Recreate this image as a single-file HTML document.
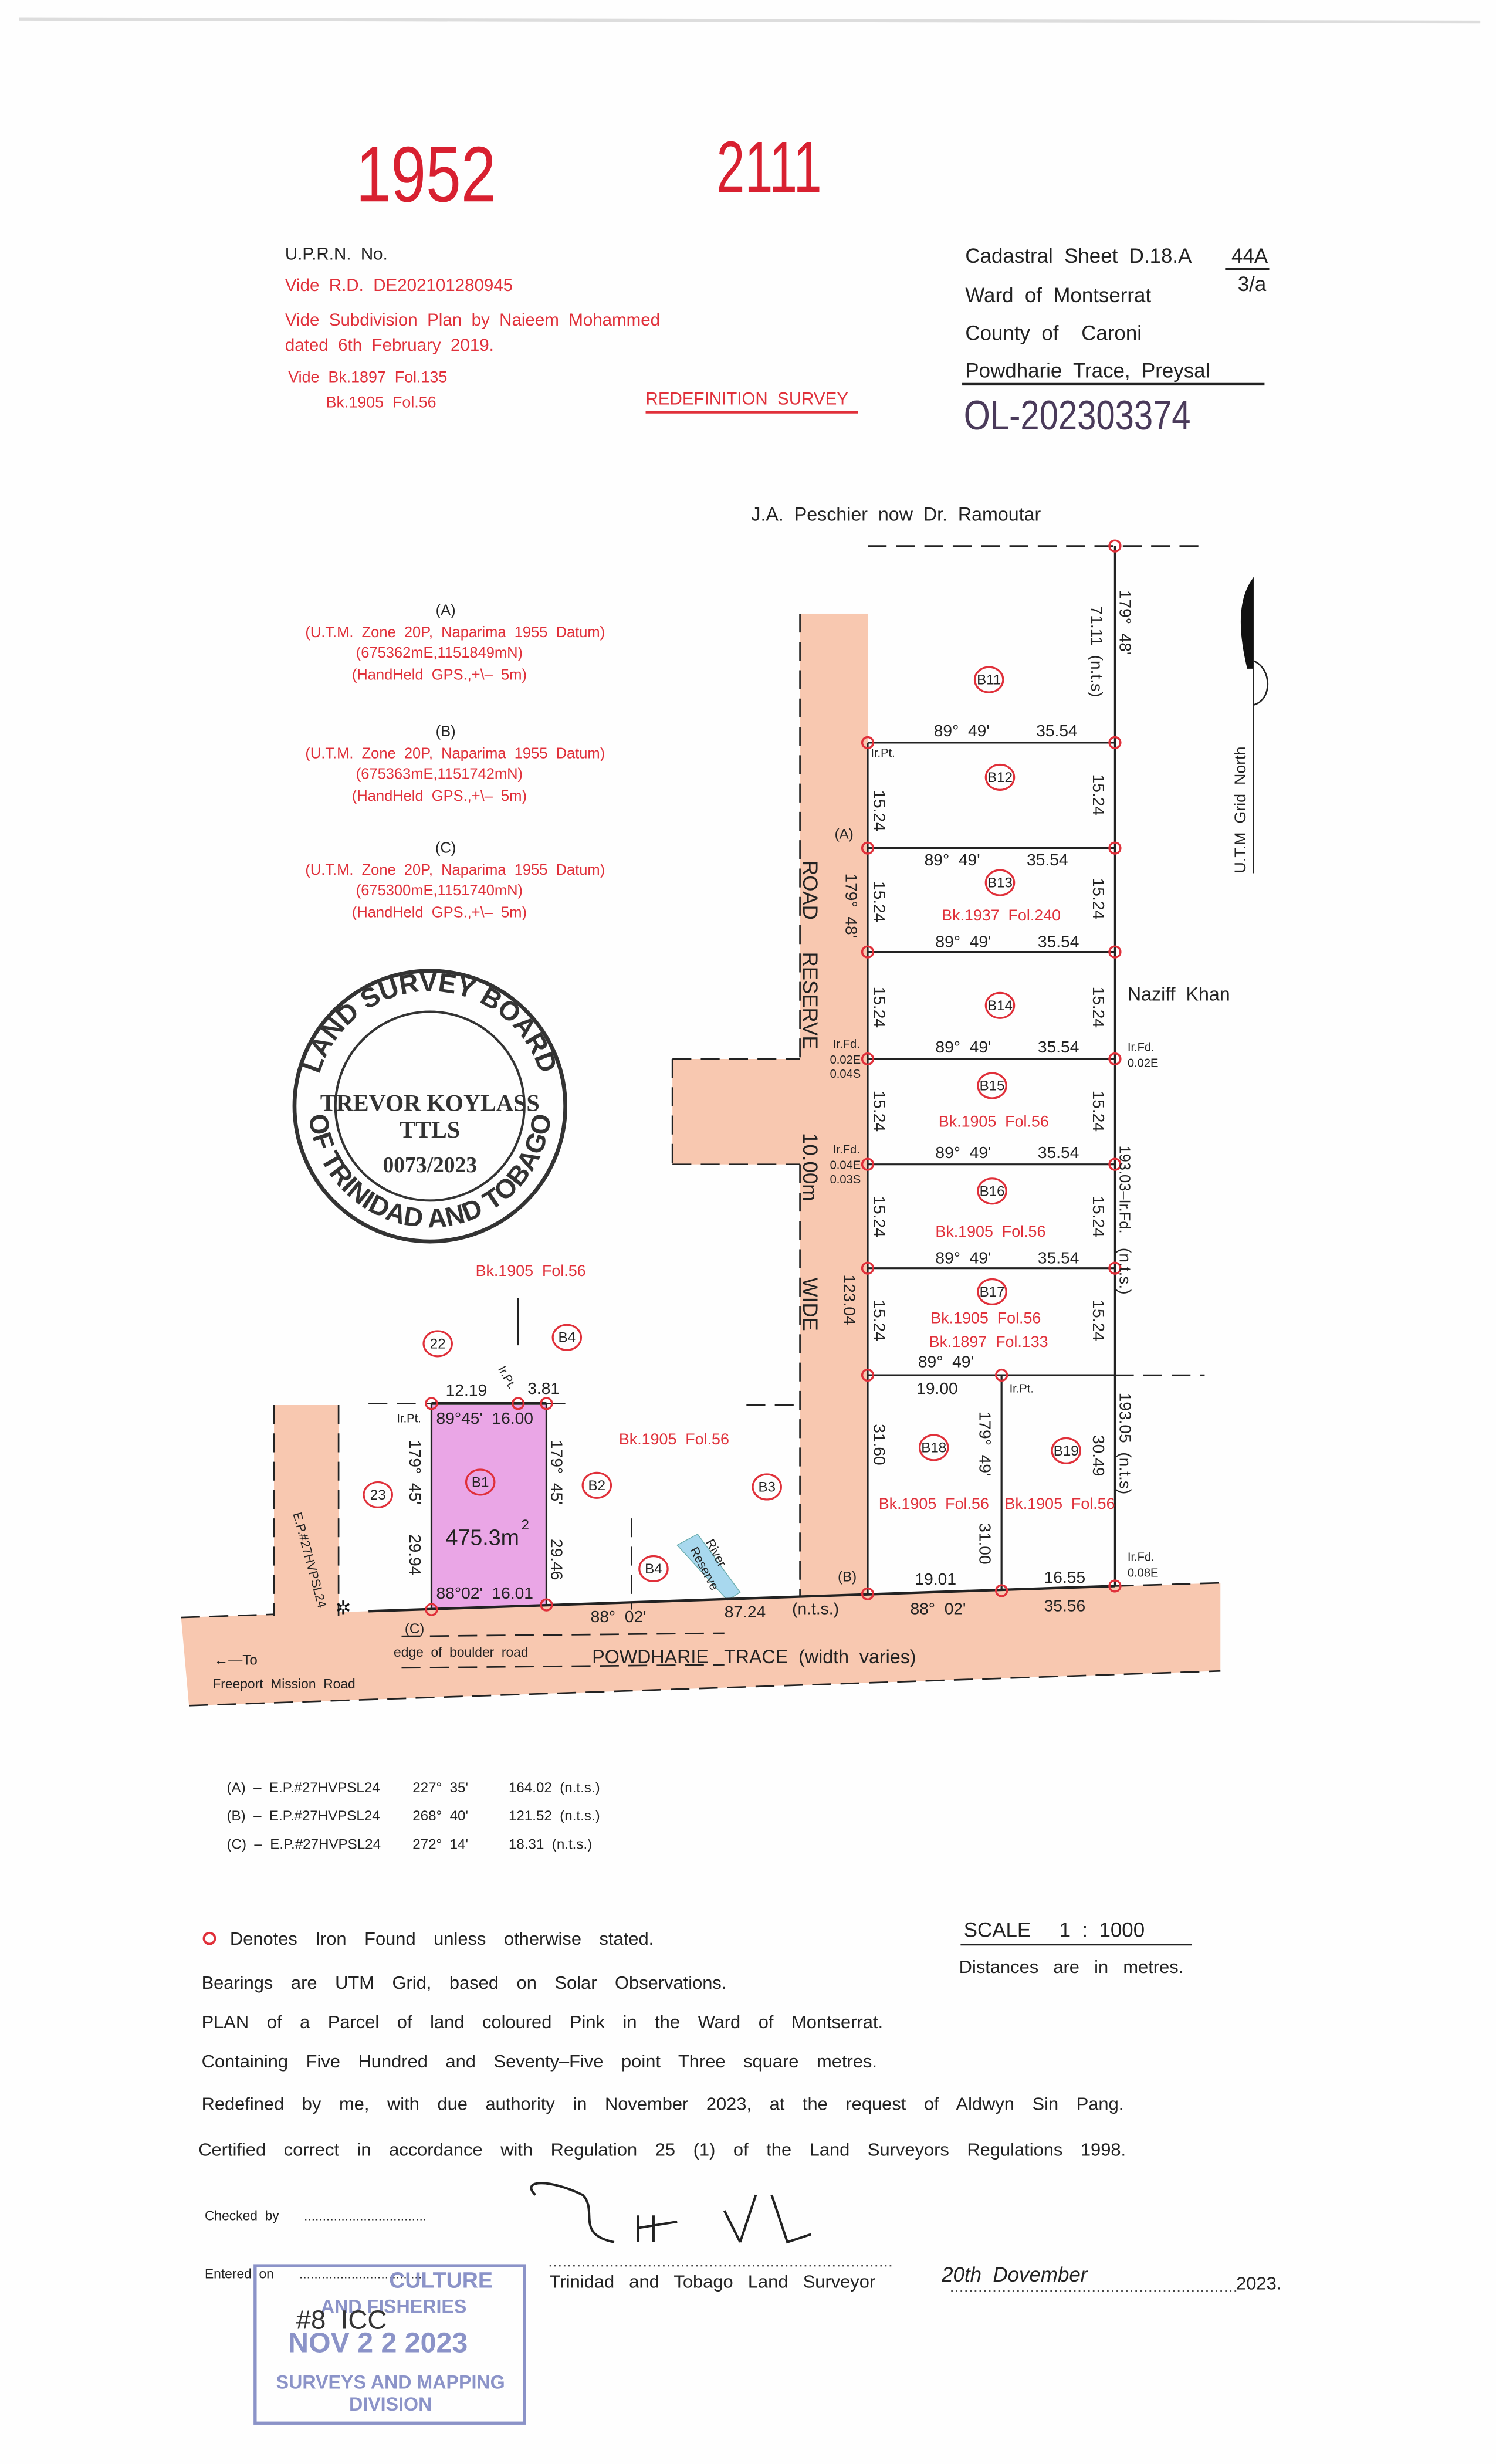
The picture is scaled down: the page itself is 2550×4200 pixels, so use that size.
<!DOCTYPE html>
<html><head><meta charset="utf-8"><style>
html,body{margin:0;padding:0;background:#fff}
svg{display:block}
text{font-family:"Liberation Sans",sans-serif;white-space:pre}
.k{fill:#222}
.r{fill:#e0303a}
</style></head><body>
<svg width="2550" height="4200" viewBox="0 0 950 1566" preserveAspectRatio="none" xmlns="http://www.w3.org/2000/svg" xml:space="preserve">
<rect width="950" height="1566" fill="#fefefe"/>
<line x1="12" y1="12" x2="940" y2="14" stroke="#ddd" stroke-width="2"/>
<text transform="translate(226,128) scale(0.8,1)" font-size="50" fill="#d82030">1952</text>
<text transform="translate(455,122) scale(0.7,1)" font-size="46" fill="#d82030">2111</text>
<g font-size="11" class="k">
<text x="181" y="165">U.P.R.N.  No.</text>
</g>
<g font-size="11" class="r">
<text x="181" y="185">Vide  R.D.  DE202101280945</text>
<text x="181" y="207">Vide  Subdivision  Plan  by  Naieem  Mohammed</text>
<text x="181" y="223">dated  6th  February  2019.</text>
<text x="183" y="243" font-size="10">Vide  Bk.1897  Fol.135</text>
<text x="207" y="259" font-size="10">Bk.1905  Fol.56</text>
<text x="410" y="257" font-size="11">REDEFINITION  SURVEY</text>
</g>
<line x1="410" y1="262" x2="545" y2="262" stroke="#e0303a" stroke-width="1.5"/>
<g font-size="13" class="k">
<text x="613" y="167">Cadastral  Sheet  D.18.A</text>
<text x="782" y="167">44A</text>
<text x="786" y="185">3/a</text>
<text x="613" y="192">Ward  of  Montserrat</text>
<text x="613" y="216">County  of    Caroni</text>
<text x="613" y="240">Powdharie  Trace,  Preysal</text>
</g>
<line x1="778" y1="171" x2="806" y2="171" stroke="#222" stroke-width="1.2"/>
<line x1="611" y1="244" x2="803" y2="244" stroke="#222" stroke-width="2"/>
<text transform="translate(612,273) scale(0.9,1.1)" font-size="24" fill="#4a3a5a">OL-202303374</text>
<text x="477" y="331" font-size="12" class="k">J.A.  Peschier  now  Dr.  Ramoutar</text>
<g font-size="9.5" text-anchor="middle">
<text x="283" y="391" class="k">(A)</text>
<text x="289" y="405" class="r">(U.T.M.  Zone  20P,  Naparima  1955  Datum)</text>
<text x="279" y="418" class="r">(675362mE,1151849mN)</text>
<text x="279" y="432" class="r">(HandHeld  GPS.,+\–  5m)</text>
<text x="283" y="468" class="k">(B)</text>
<text x="289" y="482" class="r">(U.T.M.  Zone  20P,  Naparima  1955  Datum)</text>
<text x="279" y="495" class="r">(675363mE,1151742mN)</text>
<text x="279" y="509" class="r">(HandHeld  GPS.,+\–  5m)</text>
<text x="283" y="542" class="k">(C)</text>
<text x="289" y="556" class="r">(U.T.M.  Zone  20P,  Naparima  1955  Datum)</text>
<text x="279" y="569" class="r">(675300mE,1151740mN)</text>
<text x="279" y="583" class="r">(HandHeld  GPS.,+\–  5m)</text>
</g>
<g fill="none" stroke="#333">
<circle cx="273" cy="703" r="86" stroke-width="2.5"/>
<circle cx="273" cy="703" r="60" stroke-width="1.5"/>
</g>
<defs><path id="arcT" d="M200,703 A73,73 0 0 1 346,703"/><path id="arcB" d="M196,703 A77,77 0 0 0 350,703"/></defs>
<text font-size="17" font-weight="bold" fill="#333" font-family="Liberation Serif"><textPath href="#arcT" startOffset="50%" text-anchor="middle">LAND SURVEY BOARD</textPath></text>
<text font-size="17" font-weight="bold" fill="#333" font-family="Liberation Serif"><textPath href="#arcB" startOffset="50%" text-anchor="middle">OF TRINIDAD AND TOBAGO</textPath></text>
<g font-weight="bold" fill="#333" text-anchor="middle">
<text x="273" y="706" font-size="15" style="font-family:'Liberation Serif'">TREVOR KOYLASS</text>
<text x="273" y="723" font-size="15" style="font-family:'Liberation Serif'">TTLS</text>
<text x="273" y="745" font-size="14" style="font-family:'Liberation Serif'">0073/2023</text>
</g>
<path d="M796,367 C786,380 786,400 792,425 L796,425 Z" fill="#111"/>
<line x1="796" y1="367" x2="796" y2="555" stroke="#222" stroke-width="1"/>
<path d="M796,420 C808,425 808,445 796,448" fill="none" stroke="#222"/>
<text transform="translate(791,555) rotate(-90)" font-size="10" class="k">U.T.M  Grid  North</text>
<g fill="#f8c8b0">
<rect x="508" y="390" width="43" height="632"/>
<rect x="427" y="673" width="81" height="67"/>
<rect x="174" y="893" width="41" height="134"/>
<polygon points="115,1028 775,1006 775,1062 120,1084"/>
</g>
<polygon points="274,893 347,893 347,1020 274,1023" fill="#eaa6e6"/>
<polygon points="430,982 443,975 470,1012 462,1017" fill="#a8d8ee" stroke="#6aa" stroke-width="0.5"/>
<text transform="translate(448,980) rotate(62)" font-size="8" class="k">River</text>
<text transform="translate(438,985) rotate(62)" font-size="8" class="k">Reserve</text>
<g stroke="#222" stroke-width="1" fill="none" stroke-dasharray="12,6">
<line x1="551" y1="347" x2="765" y2="347"/>
<line x1="508" y1="390" x2="508" y2="673"/>
<line x1="427" y1="673" x2="508" y2="673"/>
<line x1="427" y1="740" x2="508" y2="740"/>
<line x1="508" y1="740" x2="508" y2="1015"/>
<line x1="427" y1="673" x2="427" y2="740"/>
<line x1="708" y1="874" x2="765" y2="874"/>
<line x1="474" y1="893" x2="508" y2="893"/>
<line x1="174" y1="893" x2="174" y2="1027"/>
<line x1="215" y1="893" x2="215" y2="1027"/>
<line x1="234" y1="892" x2="274" y2="892"/>
<line x1="347" y1="892" x2="362" y2="892"/>
<line x1="115" y1="1028" x2="174" y2="1026"/>
<line x1="708" y1="1008" x2="775" y2="1006"/>
<line x1="120" y1="1084" x2="775" y2="1062"/>
<line x1="255" y1="1040" x2="460" y2="1038"/>
<line x1="255" y1="1060" x2="460" y2="1058"/>
</g>
<line x1="329" y1="825" x2="329" y2="855" stroke="#222"/>
<line x1="401" y1="965" x2="401" y2="1023" stroke="#222" stroke-dasharray="12,6"/>
<g stroke="#222" stroke-width="1.2" fill="none">
<line x1="551" y1="472" x2="551" y2="1014"/>
<line x1="708" y1="347" x2="708" y2="1008"/>
<line x1="551" y1="472" x2="708" y2="472"/>
<line x1="551" y1="539" x2="708" y2="539"/>
<line x1="551" y1="605" x2="708" y2="605"/>
<line x1="551" y1="673" x2="708" y2="673"/>
<line x1="551" y1="740" x2="708" y2="740"/>
<line x1="551" y1="806" x2="708" y2="806"/>
<line x1="551" y1="874" x2="708" y2="874"/>
<line x1="636" y1="874" x2="636" y2="1011"/>
<line x1="274" y1="892" x2="347" y2="892" stroke-width="1.8"/>
<line x1="274" y1="892" x2="274" y2="1023"/>
<line x1="347" y1="892" x2="347" y2="1020"/>
<line x1="234" y1="1024" x2="708" y2="1008" stroke-width="1.6"/>
</g>
<g fill="none" stroke="#e0303a" stroke-width="1.3">
<circle cx="708" cy="347" r="3.5"/>
<circle cx="551" cy="472" r="3.5"/><circle cx="708" cy="472" r="3.5"/>
<circle cx="551" cy="539" r="3.5"/><circle cx="708" cy="539" r="3.5"/>
<circle cx="551" cy="605" r="3.5"/><circle cx="708" cy="605" r="3.5"/>
<circle cx="551" cy="673" r="3.5"/><circle cx="708" cy="673" r="3.5"/>
<circle cx="551" cy="740" r="3.5"/><circle cx="708" cy="740" r="3.5"/>
<circle cx="551" cy="806" r="3.5"/><circle cx="708" cy="806" r="3.5"/>
<circle cx="551" cy="874" r="3.5"/><circle cx="636" cy="874" r="3.5"/>
<circle cx="551" cy="1013" r="3.5"/><circle cx="636" cy="1011" r="3.5"/><circle cx="708" cy="1008" r="3.5"/>
<circle cx="274" cy="892" r="3.5"/><circle cx="329" cy="892" r="3.5"/><circle cx="347" cy="892" r="3.5"/>
<circle cx="274" cy="1023" r="3.5"/><circle cx="347" cy="1020" r="3.5"/>
</g>
<text x="213" y="1026" font-size="12" fill="#111">✲</text>
<g fill="none" stroke="#e0303a" stroke-width="1.2">
<ellipse cx="628" cy="432" rx="9" ry="8"/><ellipse cx="635" cy="494" rx="9" ry="8"/>
<ellipse cx="635" cy="561" rx="9" ry="8"/><ellipse cx="635" cy="639" rx="9" ry="8"/>
<ellipse cx="630" cy="690" rx="9" ry="8"/><ellipse cx="630" cy="757" rx="9" ry="8"/>
<ellipse cx="630" cy="821" rx="9" ry="8"/><ellipse cx="593" cy="920" rx="9" ry="8"/>
<ellipse cx="677" cy="922" rx="9" ry="8"/><ellipse cx="278" cy="854" rx="9" ry="8"/>
<ellipse cx="360" cy="850" rx="9" ry="8"/><ellipse cx="240" cy="950" rx="9" ry="8"/>
<ellipse cx="305" cy="942" rx="9" ry="8"/><ellipse cx="379" cy="944" rx="9" ry="8"/>
<ellipse cx="487" cy="945" rx="9" ry="8"/><ellipse cx="415" cy="997" rx="9" ry="8"/>
</g>
<g font-size="9" class="k" text-anchor="middle">
<text x="628" y="435">B11</text><text x="635" y="497">B12</text><text x="635" y="564">B13</text>
<text x="635" y="642">B14</text><text x="630" y="693">B15</text><text x="630" y="760">B16</text>
<text x="630" y="824">B17</text><text x="593" y="923">B18</text><text x="677" y="925">B19</text>
<text x="278" y="857">22</text><text x="360" y="853">B4</text><text x="240" y="953">23</text>
<text x="305" y="945">B1</text><text x="379" y="947">B2</text><text x="487" y="948">B3</text><text x="415" y="1000">B4</text>
</g>
<g font-size="10.5" class="k">
<text x="593" y="468">89°  49'</text><text x="658" y="468">35.54</text>
<text x="587" y="550">89°  49'</text><text x="652" y="550">35.54</text>
<text x="594" y="602">89°  49'</text><text x="659" y="602">35.54</text>
<text x="594" y="669">89°  49'</text><text x="659" y="669">35.54</text>
<text x="594" y="736">89°  49'</text><text x="659" y="736">35.54</text>
<text x="594" y="803">89°  49'</text><text x="659" y="803">35.54</text>
<text x="583" y="869">89°  49'</text>
<text x="582" y="886">19.00</text>
<text x="581" y="1007">19.01</text><text x="663" y="1006">16.55</text>
<text x="663" y="1024">35.56</text><text x="578" y="1026">88°  02'</text>
<text x="375" y="1031">88°  02'</text><text x="460" y="1028">87.24</text><text x="503" y="1026">(n.t.s.)</text>
<text x="283" y="887">12.19</text><text x="335" y="886">3.81</text>
<text x="277" y="905">89°45'  16.00</text><text x="277" y="1016">88°02'  16.01</text>
<text x="283" y="982" font-size="14">475.3m</text><text x="331" y="972" font-size="9">2</text>
<text x="530" y="533" font-size="9">(A)</text><text x="532" y="1005" font-size="9">(B)</text>
<text x="257" y="1038" font-size="9">(C)</text>
<text x="376" y="1057" font-size="12">POWDHARIE   TRACE  (width  varies)</text>
<text x="250" y="1053" font-size="8.5">edge  of  boulder  road</text>
<text x="135" y="1073" font-size="8.5">Freeport  Mission  Road</text>
<text x="136" y="1058" font-size="9">←—To</text>
<text x="716" y="636" font-size="12">Naziff  Khan</text>
</g>
<g font-size="7.5" class="k">
<text x="553" y="481">Ir.Pt.</text>
<text x="529" y="666">Ir.Fd.</text><text x="527" y="676">0.02E</text><text x="527" y="685">0.04S</text>
<text x="529" y="733">Ir.Fd.</text><text x="527" y="743">0.04E</text><text x="527" y="752">0.03S</text>
<text x="716" y="668">Ir.Fd.</text><text x="716" y="678">0.02E</text>
<text x="641" y="885">Ir.Pt.</text>
<text x="716" y="992">Ir.Fd.</text><text x="716" y="1002">0.08E</text>
<text x="252" y="904">Ir.Pt.</text>
<text transform="translate(316,870) rotate(60)">Ir.Pt.</text>
</g>
<g font-size="10.5" class="k">
<text transform="translate(711,375) rotate(90)">179°  48'</text>
<text transform="translate(693,385) rotate(90)">71.11  (n.t.s)</text>
<text transform="translate(555,502) rotate(90)">15.24</text><text transform="translate(694,492) rotate(90)">15.24</text>
<text transform="translate(555,560) rotate(90)">15.24</text><text transform="translate(694,558) rotate(90)">15.24</text>
<text transform="translate(555,627) rotate(90)">15.24</text><text transform="translate(694,627) rotate(90)">15.24</text>
<text transform="translate(555,693) rotate(90)">15.24</text><text transform="translate(694,693) rotate(90)">15.24</text>
<text transform="translate(555,760) rotate(90)">15.24</text><text transform="translate(694,760) rotate(90)">15.24</text>
<text transform="translate(555,826) rotate(90)">15.24</text><text transform="translate(694,826) rotate(90)">15.24</text>
<text transform="translate(537,555) rotate(90)">179°  48'</text>
<text transform="translate(536,810) rotate(90)">123.04</text>
<text transform="translate(711,728) rotate(90)" font-size="9.5">193.03–Ir.Fd.</text>
<text transform="translate(711,793) rotate(90)">(n.t.s.)</text>
<text transform="translate(555,905) rotate(90)">31.60</text>
<text transform="translate(622,897) rotate(90)">179°  49'</text>
<text transform="translate(622,968) rotate(90)">31.00</text>
<text transform="translate(694,912) rotate(90)">30.49</text>
<text transform="translate(711,885) rotate(90)">193.05  (n.t.s)</text>
<text transform="translate(260,915) rotate(90)">179°  45'</text>
<text transform="translate(260,975) rotate(90)">29.94</text>
<text transform="translate(350,915) rotate(90)">179°  45'</text>
<text transform="translate(350,978) rotate(90)">29.46</text>
<text transform="translate(510,547) rotate(90)" font-size="13">ROAD</text>
<text transform="translate(510,605) rotate(90)" font-size="13">RESERVE</text>
<text transform="translate(510,720) rotate(90)" font-size="13">10.00m</text>
<text transform="translate(510,812) rotate(90)" font-size="13">WIDE</text>
<text transform="translate(186,962) rotate(75)" font-size="8">E.P.#27HVPSL24</text>
</g>
<g font-size="10" class="r">
<text x="598" y="585">Bk.1937  Fol.240</text>
<text x="596" y="716">Bk.1905  Fol.56</text>
<text x="594" y="786">Bk.1905  Fol.56</text>
<text x="591" y="841">Bk.1905  Fol.56</text>
<text x="590" y="856">Bk.1897  Fol.133</text>
<text x="558" y="959">Bk.1905  Fol.56</text>
<text x="638" y="959">Bk.1905  Fol.56</text>
<text x="393" y="918">Bk.1905  Fol.56</text>
<text x="302" y="811">Bk.1905  Fol.56</text>
</g>
<g font-size="9" class="k">
<text x="144" y="1139">(A)  –  E.P.#27HVPSL24</text><text x="262" y="1139">227°  35'</text><text x="323" y="1139">164.02  (n.t.s.)</text>
<text x="144" y="1157">(B)  –  E.P.#27HVPSL24</text><text x="262" y="1157">268°  40'</text><text x="323" y="1157">121.52  (n.t.s.)</text>
<text x="144" y="1175">(C)  –  E.P.#27HVPSL24</text><text x="262" y="1175">272°  14'</text><text x="323" y="1175">18.31  (n.t.s.)</text>
</g>
<circle cx="133" cy="1232" r="3.5" fill="none" stroke="#e0303a" stroke-width="1.5"/>
<g font-size="11.5" class="k" style="word-spacing:2.5px">
<text x="146" y="1236">Denotes  Iron  Found  unless  otherwise  stated.</text>
<text x="128" y="1264">Bearings  are  UTM  Grid,  based  on  Solar  Observations.</text>
<text x="128" y="1289">PLAN  of  a  Parcel  of  land  coloured  Pink  in  the  Ward  of  Montserrat.</text>
<text x="128" y="1314">Containing  Five  Hundred  and  Seventy–Five  point  Three  square  metres.</text>
<text x="128" y="1341">Redefined  by  me,  with  due  authority  in  November  2023,  at  the  request  of  Aldwyn  Sin  Pang.</text>
<text x="126" y="1370">Certified  correct  in  accordance  with  Regulation  25  (1)  of  the  Land  Surveyors  Regulations  1998.</text>
</g>
<g font-size="11.5" class="k">
<text x="612" y="1231" font-size="13">SCALE     1  :  1000</text>
<text x="609" y="1254" style="word-spacing:1.5px">Distances  are  in  metres.</text>
<text x="349" y="1454" style="word-spacing:1.5px">Trinidad  and  Tobago  Land  Surveyor</text>
<text x="785" y="1455">2023.</text>
</g>
<line x1="610" y1="1236" x2="757" y2="1236" stroke="#222"/>
<g font-size="8.5" class="k">
<text x="130" y="1411">Checked  by</text><text x="193" y="1411">.................................</text>
<text x="130" y="1448">Entered  on</text><text x="190" y="1448">.................................</text>
</g>
<line x1="349" y1="1440" x2="568" y2="1440" stroke="#444" stroke-dasharray="1,2"/>
<line x1="604" y1="1456" x2="785" y2="1456" stroke="#444" stroke-dasharray="1,2"/>
<path d="M340,1395 C330,1385 350,1385 370,1395 C380,1405 365,1420 390,1425 M405,1408 L405,1425 M415,1408 L415,1425 M405,1416 L430,1412 M460,1405 L470,1425 M470,1425 L480,1395 M490,1395 L500,1425 L515,1420" fill="none" stroke="#222" stroke-width="1.5"/>
<text x="598" y="1450" font-size="13" fill="#222" font-style="italic">20th  Dovember</text>
<rect x="162" y="1440" width="171" height="100" fill="none" stroke="#8b93c8" stroke-width="2"/>
<g fill="#8b93c8" font-size="14" font-weight="bold" text-anchor="middle">
<text x="280" y="1454">CULTURE</text>
<text x="250" y="1470" font-size="12">AND FISHERIES</text>
<text x="240" y="1495" font-size="18">NOV 2 2 2023</text>
<text x="248" y="1518" font-size="12">SURVEYS AND MAPPING</text>
<text x="248" y="1532" font-size="12">DIVISION</text>
</g>
<text x="188" y="1480" font-size="17" fill="#333">#8  ICC</text>
</svg>
</body></html>
